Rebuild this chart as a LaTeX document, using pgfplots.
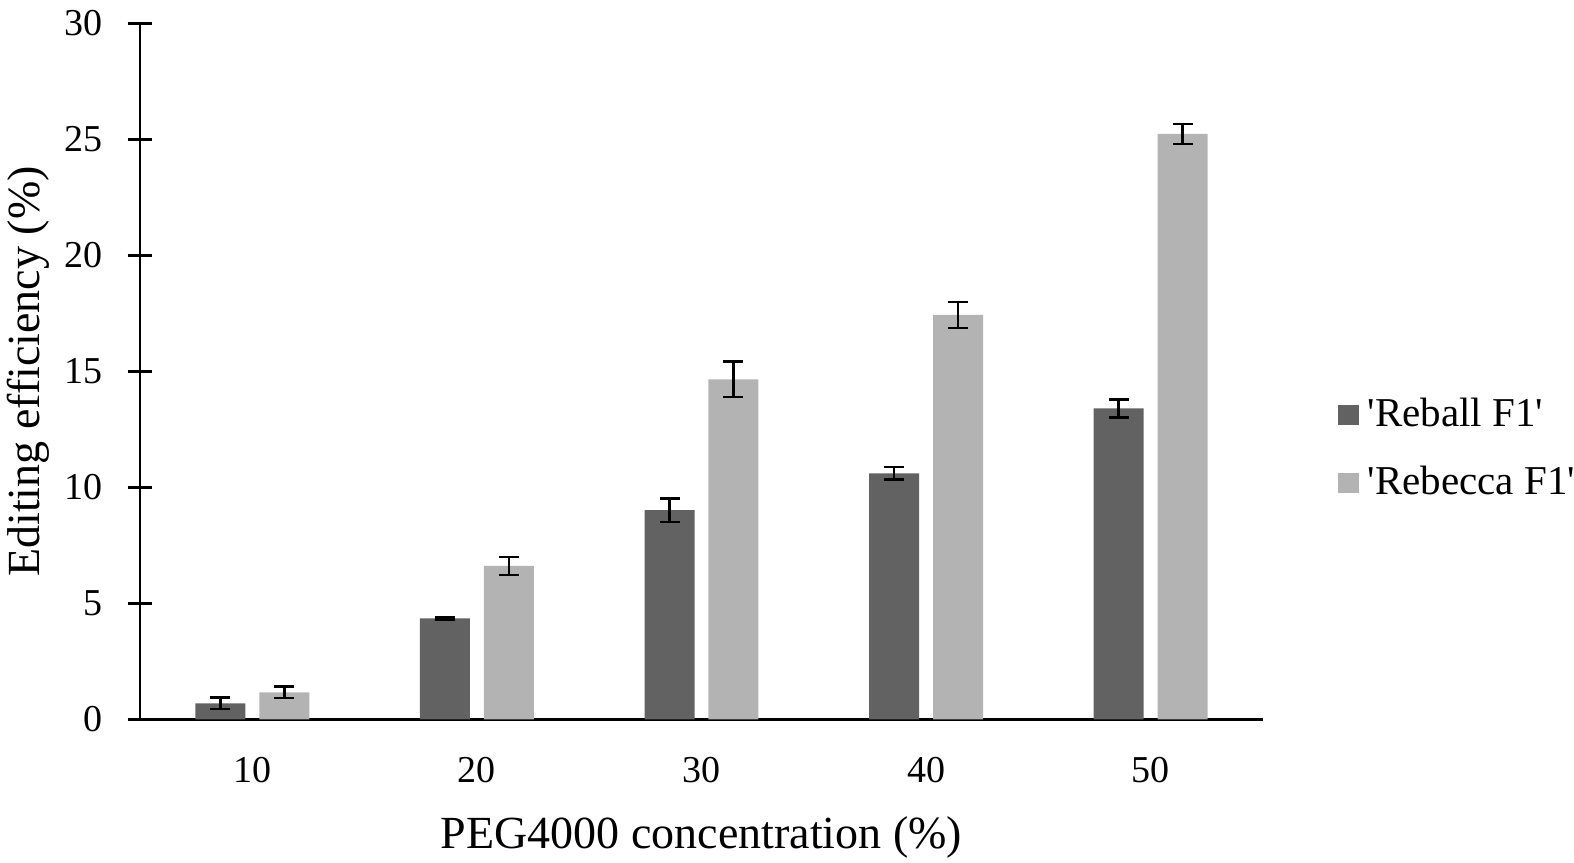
\documentclass[border=0pt]{standalone}
\usepackage{fontspec}
\setmainfont{Liberation Serif}
\usepackage{pgfplots}
\pgfplotsset{compat=1.18}
\definecolor{darkbar}{HTML}{626262}
\definecolor{lightbar}{HTML}{B3B3B3}
\begin{document}
\begin{tikzpicture}
\useasboundingbox (0,0) rectangle (787pt,431pt);
\begin{axis}[
  at={(70pt,71.25pt)}, anchor=south west,
  scale only axis,
  width=561.5pt, height=348pt,
  xmin=-0.5, xmax=4.5,
  ymin=0, ymax=30,
  axis x line=bottom, axis y line=left,
  axis line style={-, line width=1.3pt, black},
  ytick={0,5,10,15,20,25,30},
  xtick={0,1,2,3,4},
  xticklabels={10,20,30,40,50},
  xtick style={draw=none},
  ytick style={line width=1.3pt, black},
  tick align=center,
  major tick length=12.3pt,
  /pgf/number format/assume math mode=true,
  ticklabel style={font=\fontsize{19}{22}\selectfont},
  yticklabel style={inner sep=0pt, xshift=-12.2pt},
  xticklabel style={inner sep=0pt, yshift=-6.6pt},
  xlabel={PEG4000 concentration (\%)},
  ylabel={Editing efficiency (\%)},
  label style={font=\fontsize{23}{27}\selectfont},
  xlabel style={at={(axis description cs:0.5,0)}, anchor=north, inner sep=0pt, yshift=-48.5pt},
  ylabel style={at={(axis description cs:-0.0801,0.5)}, anchor=south, inner sep=0pt},
  ybar,
  bar width=0.2225,
  clip=false,
  legend style={at={(axis description cs:1.0666,0.388)}, anchor=west, draw=none,
    inner sep=0pt, row sep=22.8pt, column sep=4.35pt,
    font=\fontsize{20.5}{24}\selectfont,
    nodes={inner sep=0pt, text height=11pt, text depth=0pt}},
  legend cell align=left,
  legend image code/.code={\fill[#1] (0pt,-4.7pt) rectangle (10.5pt,5.3pt);},
  error bars/y dir=both,
  error bars/y explicit,
  error bars/error bar style={line width=1.3pt, black},
  error bars/error mark options={rotate=90, mark size=5pt, line width=1.3pt, black},
]
\addplot[fill=darkbar, draw=none, bar shift=-0.1424] coordinates {
  (0,0.70) +- (0,0.24)
  (1,4.36) +- (0,0.05)
  (2,9.02) +- (0,0.51)
  (3,10.61) +- (0,0.27)
  (4,13.41) +- (0,0.39)
};
\addplot[fill=lightbar, draw=none, bar shift=0.1424] coordinates {
  (0,1.17) +- (0,0.25)
  (1,6.62) +- (0,0.39)
  (2,14.66) +- (0,0.76)
  (3,17.44) +- (0,0.56)
  (4,25.24) +- (0,0.43)
};
\legend{\textquotesingle Reball F1\textquotesingle, \textquotesingle Rebecca F1\textquotesingle}
\end{axis}
\end{tikzpicture}
\end{document}
